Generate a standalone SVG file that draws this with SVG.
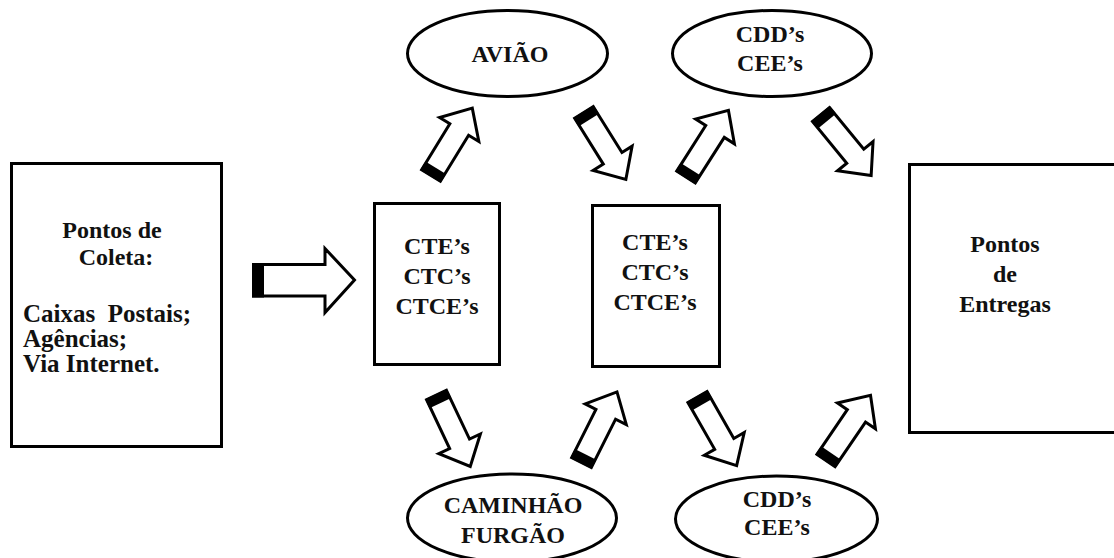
<svg xmlns="http://www.w3.org/2000/svg" xmlns:xlink="http://www.w3.org/1999/xlink" width="1114" height="558" viewBox="0 0 1114 558">
  <style>
    .box { fill: #ffffff; stroke: #000000; stroke-width: 3; }
    .lbl { font-family: "Liberation Serif", "Times New Roman", serif; font-weight: bold; font-size: 24px; fill: #111111; }
    .big { font-size: 25px; }
    .mid { text-anchor: middle; }
    .arrow-body { fill: #ffffff; stroke: #000000; stroke-width: 3; stroke-linejoin: miter; }
    .arrow-tail { fill: #000000; }
  </style>
  <defs>
    <!-- block arrow pointing along +x, tail at the origin -->
    <g id="blockArrow">
      <path class="arrow-body" d="M0,-11 L54,-11 L54,-23 L79,0 L54,23 L54,11 L0,11 Z"/>
      <rect class="arrow-tail" x="-1" y="-12" width="10" height="24"/>
    </g>
  </defs>
  <rect width="1114" height="558" fill="#ffffff"/>

  <g id="pontos-coleta">
    <rect class="box" x="11.5" y="163.5" width="210" height="283"/>
    <text class="lbl mid" x="112" y="238">Pontos de</text>
    <text class="lbl mid" x="116" y="265">Coleta:</text>
    <text class="lbl big" x="23" y="322" xml:space="preserve">Caixas  Postais;</text>
    <text class="lbl big" x="23" y="347">Agências;</text>
    <text class="lbl big" x="23" y="372">Via Internet.</text>
  </g>

  <g id="centros-1">
    <rect class="box" x="374.5" y="203.5" width="125" height="161"/>
    <text class="lbl mid" x="437" y="254">CTE’s</text>
    <text class="lbl mid" x="437" y="284">CTC’s</text>
    <text class="lbl mid" x="437" y="314">CTCE’s</text>
  </g>

  <g id="centros-2">
    <rect class="box" x="592.5" y="205.5" width="127" height="161"/>
    <text class="lbl mid" x="655" y="250">CTE’s</text>
    <text class="lbl mid" x="655" y="280">CTC’s</text>
    <text class="lbl mid" x="655" y="310">CTCE’s</text>
  </g>

  <g id="pontos-entregas">
    <rect class="box" x="909.5" y="164.5" width="210" height="268"/>
    <text class="lbl mid" x="1005" y="252">Pontos</text>
    <text class="lbl mid" x="1005" y="282">de</text>
    <text class="lbl mid" x="1005" y="312">Entregas</text>
  </g>

  <g id="aviao">
    <ellipse class="box" cx="507.5" cy="53.5" rx="100" ry="43"/>
    <text class="lbl mid" x="510" y="62">AVIÃO</text>
  </g>

  <g id="cdd-cee-topo">
    <ellipse class="box" cx="772" cy="53.5" rx="99.5" ry="43"/>
    <text class="lbl mid" x="770" y="42">CDD’s</text>
    <text class="lbl mid" x="770" y="71">CEE’s</text>
  </g>

  <g id="caminhao-furgao">
    <ellipse class="box" cx="512" cy="518" rx="104.5" ry="44"/>
    <text class="lbl mid" x="513" y="513">CAMINHÃO</text>
    <text class="lbl mid" x="513" y="543">FURGÃO</text>
  </g>

  <g id="cdd-cee-base">
    <ellipse class="box" cx="776.5" cy="519" rx="101" ry="43"/>
    <text class="lbl mid" x="777" y="507">CDD’s</text>
    <text class="lbl mid" x="777" y="535">CEE’s</text>
  </g>

  <g id="connectors">
    <!-- collection points to first sorting centre -->
    <path class="arrow-body" d="M253.5,264.5 L325,264.5 L325,248.5 L354.5,280 L325,312.5 L325,296 L253.5,296 Z"/>
    <rect class="arrow-tail" x="252" y="263" width="12" height="34.5"/>
    <use xlink:href="#blockArrow" transform="translate(431,175.5) rotate(-58.5)"/>
    <use xlink:href="#blockArrow" transform="translate(584,112.5) rotate(58)"/>
    <use xlink:href="#blockArrow" transform="translate(686,177) rotate(-57.5)"/>
    <use xlink:href="#blockArrow" transform="translate(821,114.5) rotate(50.6)"/>
    <use xlink:href="#blockArrow" transform="translate(436.5,395) rotate(64.7)"/>
    <use xlink:href="#blockArrow" transform="translate(581.5,462.5) rotate(-63.3)"/>
    <use xlink:href="#blockArrow" transform="translate(697.5,397) rotate(60.3)"/>
    <use xlink:href="#blockArrow" transform="translate(826,460.5) rotate(-55.7)"/>
  </g>
</svg>
